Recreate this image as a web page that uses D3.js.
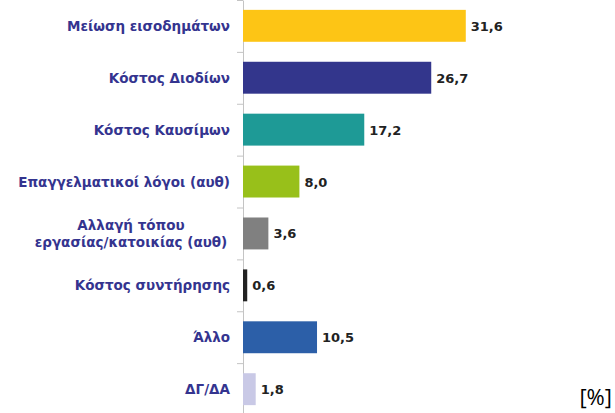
<!DOCTYPE html>
<html>
<head>
<meta charset="utf-8">
<script src="https://cdn.jsdelivr.net/npm/d3@7"></script>
<style>
  body { margin: 0; background: #fff; }
  svg { display: block; }
  .cat { font-family: "DejaVu Sans", Verdana, sans-serif; font-weight: bold; font-size: 13.5px; fill: #34348f; }
  .val { font-family: "DejaVu Sans", Verdana, sans-serif; font-weight: bold; font-size: 13px; fill: #222; }
  .unit { font-family: "Open Sans", "Noto Sans", sans-serif; font-size: 22px; fill: #000; }
  .axis path, .axis line { stroke: #c4c4c4; }
</style>
</head>
<body>
<div id="chart"></div>
<script>
// reasons, top to bottom
const categories = [
  ['Μείωση εισοδημάτων'],
  ['Κόστος Διοδίων'],
  ['Κόστος Καυσίμων'],
  ['Επαγγελματικοί λόγοι (αυθ)'],
  ['Αλλαγή τόπου', 'εργασίας/κατοικίας (αυθ)'],
  ['Κόστος συντήρησης'],
  ['Άλλο'],
  ['ΔΓ/ΔΑ'],
];
const values = [31.6, 26.7, 17.2, 8.0, 3.6, 0.6, 10.5, 1.8];
const colors = ['#fdc515', '#33368c', '#1e9a96', '#98c01a', '#808080', '#222222', '#2c5fa8', '#c9c9e6'];
const unitLabel = '[%]';

const width = 615;
const height = 413;
const fmt = v => d3.format('.1f')(v).replace('.', ',');

const svg = d3.select('#chart').append('svg')
  .attr('width', width)
  .attr('height', height);

const keys = categories.map(c => c.join(' '));

// band scale for rows, linear scale for the bar lengths
const y = d3.scaleBand()
  .domain(keys)
  .range([0, 415])
  .paddingInner(0.385)
  .paddingOuter(0.19);

const x = d3.scaleLinear()
  .domain([0, 35])
  .range([243, 243 + 7.05 * 35]);

// axis with ticks at the row boundaries
const rows = d3.scaleLinear().domain([0, keys.length]).range([0, 415]);
svg.append('g')
  .attr('class', 'axis')
  .attr('transform', `translate(${x(0)},0)`)
  .call(d3.axisLeft(rows).ticks(keys.length).tickSize(6).tickSizeOuter(0).tickFormat(''));

svg.append('g').selectAll('rect')
  .data(values)
  .join('rect')
  .attr('x', x(0))
  .attr('y', (d, i) => y(keys[i]))
  .attr('width', d => Math.max(x(d) - x(0), 2.5))
  .attr('height', y.bandwidth())
  .attr('fill', (d, i) => colors[i]);

svg.append('g').selectAll('text')
  .data(values)
  .join('text')
  .attr('class', 'val')
  .attr('x', d => Math.max(x(d), x(0) + 2.5) + 5)
  .attr('y', (d, i) => y(keys[i]) + y.bandwidth() / 2 + 5)
  .text(d => fmt(d));

// category labels, right aligned (two-line label centered on itself)
const labels = svg.append('g').selectAll('text')
  .data(categories)
  .join('text')
  .attr('class', 'cat')
  .attr('y', (d, i) => y(keys[i]) + y.bandwidth() / 2 + 5);

labels.each(function (lines) {
  const t = d3.select(this);
  if (lines.length === 1) {
    t.attr('x', 230).attr('text-anchor', 'end').text(lines[0]);
  } else {
    t.attr('x', 131).attr('text-anchor', 'middle');
    lines.forEach((line, j) => {
      t.append('tspan')
        .attr('x', 131)
        .attr('dy', j === 0 ? -8.5 : 17)
        .text(line);
    });
  }
});

svg.append('text')
  .attr('class', 'unit')
  .attr('x', 612)
  .attr('y', 405)
  .attr('text-anchor', 'end')
  .text(unitLabel);
</script>
</body>
</html>
